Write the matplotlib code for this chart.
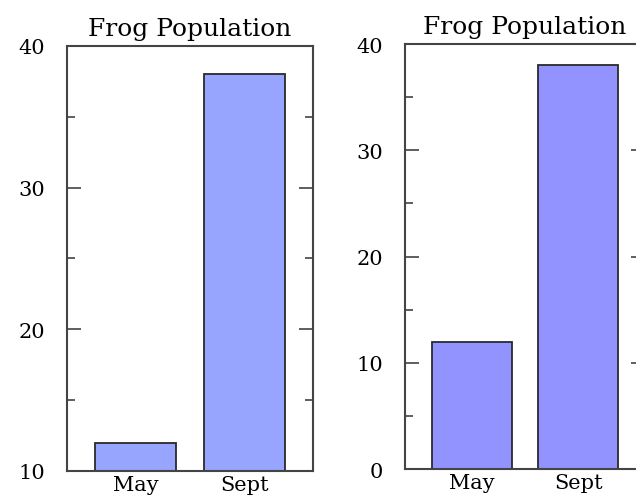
# Frog population bar charts (two y-axis baselines)

import matplotlib.pyplot as plt
from matplotlib.ticker import MultipleLocator

months = ["May", "Sept"]
frogs = [12, 38]
title = "Frog Population"

plt.rcParams['font.family'] = ['DejaVu Serif', 'Liberation Serif']

fig = plt.figure(figsize=(6.36, 5.02), dpi=100)

ax1 = fig.add_axes([0.1053, 0.0598, 0.3868, 0.8466])
ax2 = fig.add_axes([0.6368, 0.0637, 0.3774, 0.8466])

panels = [(ax1, 10, "#97a5ff"), (ax2, 0, "#9393ff")]

for ax, ymin, color in panels:
    ax.bar(months, frogs, width=0.75, color=color, edgecolor="#2a2a2a", linewidth=1.3, zorder=2)
    ax.set_xlim(-0.63, 1.63)
    ax.set_ylim(ymin, 40)
    ax.yaxis.set_major_locator(MultipleLocator(10))
    ax.yaxis.set_minor_locator(MultipleLocator(5))
    ax.tick_params(axis='y', which='both', direction='in', left=True, right=True,
                   width=1.1, color="#333333")
    ax.tick_params(axis='y', which='major', length=10, pad=15.5, labelsize=15)
    ax.tick_params(axis='y', which='minor', length=5.5)
    ax.tick_params(axis='x', length=0, pad=3, labelsize=15)
    for s in ax.spines.values():
        s.set_linewidth(1.5)
        s.set_color("#444444")
    ax.set_title(title, fontsize=18, pad=8)

fig.savefig("out.png", dpi=100)
